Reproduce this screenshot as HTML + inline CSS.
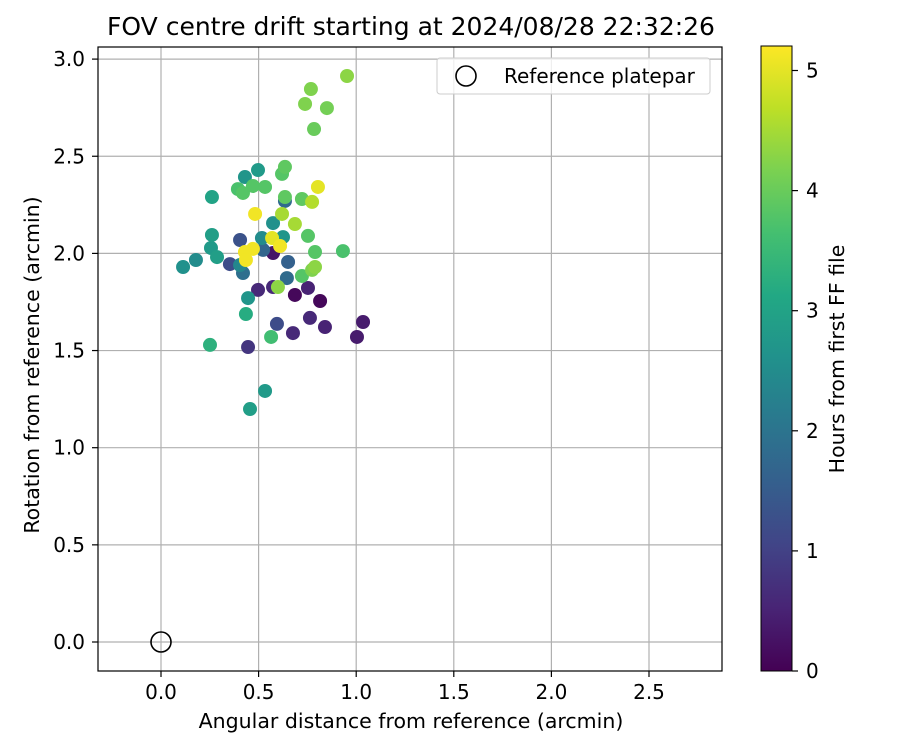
<!DOCTYPE html>
<html><head><meta charset="utf-8">
<style>
html,body{margin:0;padding:0;background:#fff;}
svg{display:block;font-family:"DejaVu Sans","Liberation Sans",sans-serif;}
</style></head>
<body>
<svg id="chart" width="900" height="750" viewBox="0 0 900 750">
<defs>
<linearGradient id="vir" x1="0" y1="1" x2="0" y2="0">
<stop offset="0" stop-color="#440154"/><stop offset="0.1" stop-color="#482475"/>
<stop offset="0.2" stop-color="#414487"/><stop offset="0.3" stop-color="#355f8d"/>
<stop offset="0.4" stop-color="#2a788e"/><stop offset="0.5" stop-color="#21918c"/>
<stop offset="0.6" stop-color="#22a884"/><stop offset="0.7" stop-color="#44bf70"/>
<stop offset="0.8" stop-color="#7ad151"/><stop offset="0.9" stop-color="#bddf26"/>
<stop offset="1" stop-color="#fde725"/>
</linearGradient>
</defs>
<text x="411" y="35" font-size="25" text-anchor="middle">FOV centre drift starting at 2024/08/28 22:32:26</text>
<g id="grid"></g>
<g id="pts"></g>
<rect x="98" y="47" width="624" height="624" fill="none" stroke="#000" stroke-width="1.2"/>
<g id="ticks"></g>
<text x="411" y="728" font-size="20.5" text-anchor="middle">Angular distance from reference (arcmin)</text>
<text transform="translate(39,365) rotate(-90)" font-size="20.5" text-anchor="middle">Rotation from reference (arcmin)</text>
<g>
<rect x="437" y="58" width="273" height="36" rx="3" fill="#fff" fill-opacity="0.8" stroke="#ccc"/>
<circle cx="466" cy="76" r="10" fill="none" stroke="#000" stroke-width="1.6"/>
<text x="504" y="83" font-size="20">Reference platepar</text>
</g>
<rect x="761" y="46" width="31" height="625" fill="url(#vir)" stroke="#000" stroke-width="1"/>
<g id="cbticks"></g>
<text transform="translate(844,359) rotate(-90)" font-size="20.5" text-anchor="middle">Hours from first FF file</text>
</svg>
<script>
const xs=[0.953,0.768,0.738,0.850,0.784,0.497,0.430,0.635,0.620,0.394,0.420,0.471,0.533,0.261,0.635,0.635,0.804,0.722,0.774,0.482,0.620,0.574,0.686,0.753,0.261,0.405,0.517,0.569,0.625,0.610,0.523,0.574,0.789,0.932,0.471,0.430,0.256,0.179,0.113,0.287,0.353,0.405,0.420,0.435,0.651,0.645,0.789,0.774,0.722,0.599,0.574,0.497,0.753,0.686,0.815,0.446,0.435,0.763,0.594,0.840,0.676,0.564,1.035,1.004,0.251,0.446,0.533,0.456];
const ys=[2.913,2.846,2.769,2.748,2.640,2.429,2.393,2.445,2.409,2.331,2.311,2.347,2.342,2.290,2.290,2.270,2.342,2.280,2.265,2.203,2.203,2.156,2.151,2.090,2.095,2.069,2.079,2.079,2.084,2.038,2.018,2.002,2.007,2.012,2.023,2.007,2.028,1.966,1.930,1.981,1.945,1.940,1.899,1.966,1.956,1.873,1.930,1.915,1.884,1.827,1.827,1.812,1.822,1.786,1.755,1.770,1.688,1.668,1.637,1.621,1.590,1.570,1.647,1.570,1.529,1.518,1.292,1.199];
const hours=[4.3,4.2,4.2,4.1,4.0,2.8,2.7,3.9,3.8,3.7,3.8,3.8,3.8,3.0,3.9,1.8,5.0,3.9,4.6,5.1,4.5,2.6,4.5,3.8,2.9,1.3,2.5,5.0,2.7,5.1,1.7,0.3,3.8,3.7,5.1,5.1,2.8,2.5,2.6,2.9,1.2,2.4,1.9,5.1,1.6,1.8,4.3,4.2,3.8,4.3,0.6,0.6,0.5,0.1,0.1,2.7,3.2,0.6,1.2,0.5,0.6,3.6,0.4,0.4,3.3,0.8,2.8,2.9];
const xTicks=[0.0,0.5,1.0,1.5,2.0,2.5];
const yTicks=[0.0,0.5,1.0,1.5,2.0,2.5,3.0];
const cTicks=[0,1,2,3,4,5];
const refX=[0], refY=[0];

const X=v=>161+v*195.2, Y=v=>642-v*194.3, C=v=>671-v*120.1;
const vir=[[68,1,84],[72,36,117],[65,68,135],[53,95,141],[42,120,142],[33,145,140],[34,168,132],[68,191,112],[122,209,81],[189,223,38],[253,231,37]];
function col(h){let t=Math.max(0,Math.min(1,h/5.2))*10;let i=Math.min(9,Math.floor(t)),f=t-i;let a=vir[i],b=vir[i+1];return 'rgb('+a.map((v,k)=>Math.round(v+(b[k]-v)*f)).join(',')+')';}
const NS='http://www.w3.org/2000/svg';
function mk(tag,attrs,parent){const e=document.createElementNS(NS,tag);for(const k in attrs)e.setAttribute(k,attrs[k]);parent.appendChild(e);return e;}
const grid=document.getElementById('grid'),ticks=document.getElementById('ticks'),pts=document.getElementById('pts'),cb=document.getElementById('cbticks');
xTicks.forEach(v=>{const x=X(v);
 let g=mk('line',{x1:x,x2:x,y1:47,y2:671,stroke:'#b0b0b0','stroke-width':1.2},grid);
 
 
 let t=mk('line',{x1:x,x2:x,y1:671,y2:677,stroke:'#000','stroke-width':1.2},ticks);
 
 
 let l=mk('text',{x:x,y:699,'font-size':20,'text-anchor':'middle'},ticks);l.textContent=v.toFixed(1);
 
 
});
yTicks.forEach(v=>{const y=Y(v);
 let g=mk('line',{x1:98,x2:722,y1:y,y2:y,stroke:'#b0b0b0','stroke-width':1.2},grid);
 
 
 let t=mk('line',{x1:92,x2:98,y1:y,y2:y,stroke:'#000','stroke-width':1.2},ticks);
 
 
 let l=mk('text',{x:85,y:y+7,'font-size':20,'text-anchor':'end'},ticks);l.textContent=v.toFixed(1);
 
 
});
cTicks.forEach(v=>{const y=C(v);
 let t=mk('line',{x1:792,x2:798,y1:y,y2:y,stroke:'#000','stroke-width':1.2},cb);
 
 
 let l=mk('text',{x:806,y:y+7,'font-size':20},cb);l.textContent=v;
 
 
});
const order=hours.map((h,i)=>i).sort((a,b)=>hours[a]-hours[b]);
order.forEach(i=>{
 let c=mk('circle',{cx:X(xs[i]),cy:Y(ys[i]),r:7,fill:col(hours[i])},pts);
 
 
});
refX.forEach((v,i)=>{
 let c=mk('circle',{cx:X(v),cy:Y(refY[i]),r:10,fill:'none',stroke:'#000','stroke-width':1.6},pts);
 
 
});
</script>
</body></html>
